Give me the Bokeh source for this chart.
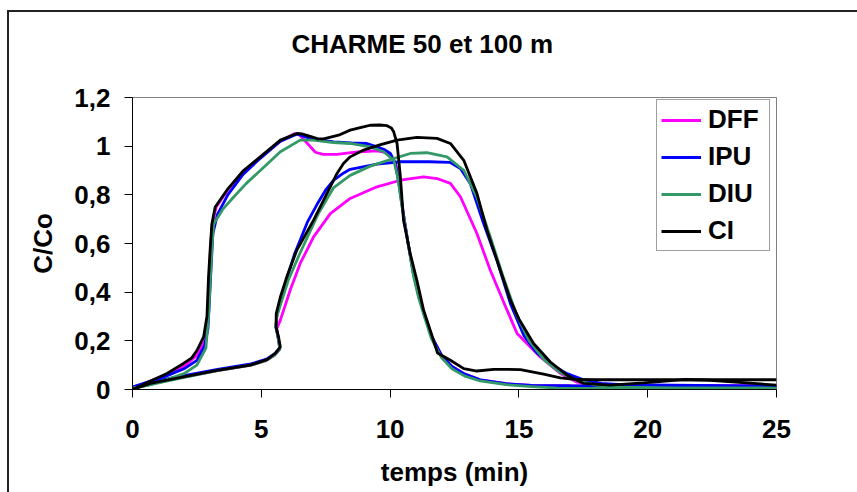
from bokeh.plotting import figure
from bokeh.models import Range1d, FixedTicker, Legend, LegendItem, InlineStyleSheet, Title
from bokeh.embed import file_html
from bokeh.resources import INLINE

# ---------------- data ----------------
title_text = "CHARME 50 et 100 m"
x_label = "temps (min)"
y_label = "C/Co"
series_names = ["DFF", "IPU", "DIU", "CI"]
series_colors = ["#FF00FF", "#0000FF", "#339966", "#000000"]

x_ticks = [0, 5, 10, 15, 20, 25]
y_ticks = [0, 0.2, 0.4, 0.6, 0.8, 1.0, 1.2]
y_tick_labels = ["0", "0,2", "0,4", "0,6", "0,8", "1", "1,2"]

# 50 m curves
dff50_x = [0, 0.7, 1.3, 2.0, 2.5, 2.8, 2.92, 2.97, 3.03, 3.1, 3.25, 3.7, 4.3, 4.96, 5.74, 6.3, 6.5, 6.8, 7.1, 7.4,
           7.94, 8.4, 8.84, 9.49, 9.8, 10.01, 10.2, 10.3, 10.42, 10.55, 10.7, 10.9, 11.1, 11.3, 11.6, 12.0, 12.4,
           12.9, 13.5, 14.5, 15.5, 17, 20, 25]
dff50_y = [0.005, 0.035, 0.06, 0.095, 0.14, 0.2, 0.3, 0.45, 0.58, 0.68, 0.75, 0.82, 0.895, 0.955, 1.02, 1.052,
           1.045, 1.01, 0.975, 0.966, 0.966, 0.972, 0.977, 0.981, 0.975, 0.963, 0.93, 0.9, 0.8, 0.7, 0.6, 0.48,
           0.39, 0.32, 0.22, 0.14, 0.095, 0.063, 0.04, 0.024, 0.017, 0.015, 0.015, 0.015]

ipu50_x = [0, 0.7, 1.3, 2.0, 2.5, 2.8, 2.93, 2.98, 3.05, 3.12, 3.3, 3.7, 4.3, 4.96, 5.74, 6.4, 6.8, 7.3, 7.81,
           8.5, 9.1, 9.49, 9.8, 10.01, 10.2, 10.35, 10.5, 10.7, 10.9, 11.1, 11.3, 11.6, 12.0, 12.4, 12.9, 13.5,
           14.5, 15.5, 17, 20, 25]
ipu50_y = [0.01, 0.035, 0.055, 0.085, 0.12, 0.18, 0.25, 0.35, 0.5, 0.64, 0.72, 0.8, 0.885, 0.95, 1.02, 1.05,
           1.035, 1.025, 1.018, 1.013, 1.011, 0.997, 0.985, 0.97, 0.93, 0.84, 0.73, 0.6, 0.48, 0.39, 0.32, 0.22,
           0.14, 0.095, 0.063, 0.04, 0.024, 0.017, 0.016, 0.015, 0.014]

diu50_x = [0, 0.7, 1.3, 2.0, 2.5, 2.85, 2.95, 3.02, 3.08, 3.15, 3.5, 3.92, 4.4, 4.96, 5.74, 6.51, 7.0, 7.81, 8.45,
           9.23, 9.75, 10.14, 10.3, 10.45, 10.7, 10.9, 11.1, 11.3, 11.6, 12.0, 12.4, 12.9, 13.5, 14.5, 15.5, 16.5,
           20, 25]
diu50_y = [0.005, 0.02, 0.04, 0.065, 0.1, 0.17, 0.3, 0.45, 0.58, 0.68, 0.74, 0.79, 0.845, 0.9, 0.977, 1.025,
           1.025, 1.015, 1.011, 0.997, 0.977, 0.942, 0.87, 0.76, 0.6, 0.47, 0.38, 0.31, 0.21, 0.13, 0.085, 0.055,
           0.035, 0.02, 0.012, 0.006, 0.005, 0.005]

ci50_x = [0, 0.7, 1.34, 1.98, 2.3, 2.5, 2.76, 2.89, 2.95, 3.02, 3.08, 3.21, 3.67, 4.31, 4.96, 5.74, 6.38, 6.6,
          6.9, 7.2, 7.42, 8.0, 8.45, 9.0, 9.23, 9.6, 9.88, 10.05, 10.14, 10.27, 10.4, 10.52, 10.78, 11.04, 11.3,
          11.6, 11.84, 12.34, 12.86, 13.37, 14.02, 15.06, 15.96, 16.61, 17.26, 18.0, 20, 22, 25]
ci50_y = [0, 0.035, 0.066, 0.107, 0.13, 0.16, 0.216, 0.3, 0.46, 0.586, 0.68, 0.75, 0.82, 0.9, 0.956, 1.025, 1.052,
          1.05, 1.04, 1.03, 1.03, 1.045, 1.066, 1.08, 1.086, 1.087, 1.084, 1.075, 1.059, 1.011, 0.874, 0.696,
          0.559, 0.449, 0.326, 0.23, 0.15, 0.12, 0.086, 0.076, 0.083, 0.082, 0.063, 0.048, 0.041, 0.04, 0.04,
          0.04, 0.04]

# 100 m curves
dff100_x = [0, 0.7, 2.0, 3.3, 4.6, 5.2, 5.5, 5.72, 5.66, 5.6, 5.74, 6.12, 6.51, 7.03, 7.68, 8.45, 9.49, 10.4,
            11.3, 11.82, 12.34, 12.73, 13.37, 13.89, 14.54, 14.93, 15.83, 16.61, 17.26, 18, 20, 25]
dff100_y = [0.005, 0.025, 0.052, 0.078, 0.1, 0.12, 0.14, 0.165, 0.21, 0.25, 0.285, 0.408, 0.518, 0.627, 0.723,
            0.785, 0.833, 0.86, 0.874, 0.867, 0.847, 0.792, 0.641, 0.49, 0.326, 0.23, 0.134, 0.066, 0.03, 0.018,
            0.015, 0.015]

ipu100_x = [0, 0.7, 2.0, 3.3, 4.6, 5.2, 5.5, 5.72, 5.66, 5.57, 5.6, 5.75, 6.0, 6.3, 6.51, 6.8, 7.16, 7.5, 7.81,
            8.2, 8.45, 9.49, 10.4, 11.5, 12.34, 12.73, 13.11, 13.63, 14.15, 14.67, 15.2, 15.7, 16.3, 16.87, 17.51,
            18.2, 19, 21, 25]
ipu100_y = [0.01, 0.03, 0.057, 0.083, 0.105, 0.125, 0.145, 0.17, 0.21, 0.255, 0.3, 0.37, 0.46, 0.56, 0.614, 0.69,
            0.76, 0.82, 0.86, 0.89, 0.905, 0.926, 0.936, 0.936, 0.933, 0.908, 0.847, 0.682, 0.53, 0.353, 0.22,
            0.15, 0.1, 0.065, 0.04, 0.025, 0.02, 0.018, 0.013]

diu100_x = [0, 0.7, 2.0, 3.3, 4.6, 5.2, 5.5, 5.72, 5.66, 5.57, 5.6, 5.78, 6.05, 6.5, 7.2, 7.81, 8.45, 9.23, 10.01,
            10.78, 11.43, 12.21, 12.86, 13.37, 13.89, 14.4, 14.9, 15.4, 16.0, 16.6, 17.3, 18, 19, 21, 25]
diu100_y = [0.005, 0.02, 0.05, 0.078, 0.1, 0.12, 0.14, 0.165, 0.21, 0.255, 0.3, 0.36, 0.45, 0.56, 0.72, 0.83, 0.88,
            0.918, 0.945, 0.97, 0.973, 0.956, 0.901, 0.79, 0.627, 0.46, 0.31, 0.2, 0.12, 0.07, 0.035, 0.018, 0.01,
            0.007, 0.006]

ci100_x = [0, 0.69, 1.98, 3.28, 4.57, 5.22, 5.54, 5.74, 5.67, 5.57, 5.58, 5.74, 5.99, 6.38, 7.03, 7.55, 7.94, 8.19,
           8.45, 8.97, 9.6, 10.27, 11.04, 11.82, 12.34, 12.86, 13.37, 13.76, 14.15, 14.67, 15.0, 15.57, 16.22,
           16.87, 17.51, 18.55, 19.84, 21.4, 22.43, 25]
ci100_y = [0, 0.025, 0.052, 0.079, 0.1, 0.123, 0.148, 0.175, 0.216, 0.257, 0.312, 0.38, 0.463, 0.573, 0.696,
           0.806, 0.888, 0.929, 0.956, 0.984, 1.005, 1.025, 1.036, 1.032, 1.011, 0.942, 0.806, 0.655, 0.531,
           0.367, 0.29, 0.189, 0.113, 0.059, 0.025, 0.018, 0.027, 0.041, 0.038, 0.018]

curves_50 = [(dff50_x, dff50_y), (ipu50_x, ipu50_y), (diu50_x, diu50_y), (ci50_x, ci50_y)]
curves_100 = [(dff100_x, dff100_y), (ipu100_x, ipu100_y), (diu100_x, diu100_y), (ci100_x, ci100_y)]

# ---------------- figure ----------------
FONT = "Liberation Sans"
FS = "26px"

p = figure(width=857, height=492, output_backend="svg", toolbar_location=None, title=None,
           x_range=Range1d(0, 25), y_range=Range1d(0, 1.2),
           min_border_left=132, min_border_right=81, min_border_top=97, min_border_bottom=103)
p.background_fill_color = "white"
p.border_fill_color = "white"
p.outline_line_color = "#808080"
p.outline_line_width = 1
p.xgrid.visible = False
p.ygrid.visible = False

# spacer between plot frame and the title, then the title itself
spacer = Title(text=" ", text_font_size="1px", standoff=36)
p.add_layout(spacer, "above")
title = Title(text=title_text, align="left", offset=159, vertical_align="bottom", standoff=0,
              text_font=FONT, text_font_style="bold", text_font_size=FS, text_color="black")
p.add_layout(title, "above")

p.xaxis.ticker = FixedTicker(ticks=x_ticks)
p.yaxis.ticker = FixedTicker(ticks=y_ticks)
p.yaxis.major_label_overrides = {t: l for t, l in zip(y_ticks, y_tick_labels)}
for ax in (p.xaxis[0], p.yaxis[0]):
    ax.axis_line_color = "black"
    ax.axis_line_width = 1
    ax.major_tick_line_color = "black"
    ax.major_tick_out = 8
    ax.major_tick_in = 0
    ax.minor_tick_out = 0
    ax.minor_tick_in = 0
    ax.major_label_text_font = FONT
    ax.major_label_text_font_style = "bold"
    ax.major_label_text_font_size = FS
    ax.major_label_text_color = "black"
    ax.axis_label_text_font = FONT
    ax.axis_label_text_font_style = "bold"
    ax.axis_label_text_font_size = FS
    ax.axis_label_text_color = "black"

p.xaxis.axis_label = x_label
p.yaxis.axis_label = y_label
p.xaxis.major_label_standoff = 22
p.yaxis.major_label_standoff = 14
p.xaxis.axis_label_standoff = 16
p.yaxis.axis_label_standoff = 13

items = []
for name, color, c50, c100 in zip(series_names, series_colors, curves_50, curves_100):
    r1 = p.line(c50[0], c50[1], line_color=color, line_width=2.8)
    r2 = p.line(c100[0], c100[1], line_color=color, line_width=2.8)
    items.append(LegendItem(label=name, renderers=[r1]))

legend = Legend(items=items, location=(524, 138), orientation="vertical",
                border_line_color="#404040", border_line_width=1,
                background_fill_color="white", background_fill_alpha=1,
                padding=4, spacing=6, margin=0,
                label_height=28, label_width=57, glyph_height=28, glyph_width=40, label_standoff=7,
                label_text_font=FONT, label_text_font_style="bold", label_text_font_size=FS,
                label_text_color="black")
p.add_layout(legend, "center")

# outer chart-area border (left and top edges visible in the window)
p.stylesheets.append(InlineStyleSheet(css="""
:host { position: relative; }
:host::after { content: ''; position: absolute; left: 7px; top: 10px; right: 0; bottom: 0;
  border-left: 2px solid #222; border-top: 2px solid #222; pointer-events: none; }
"""))

open("out.html", "w").write(file_html(p, INLINE))
